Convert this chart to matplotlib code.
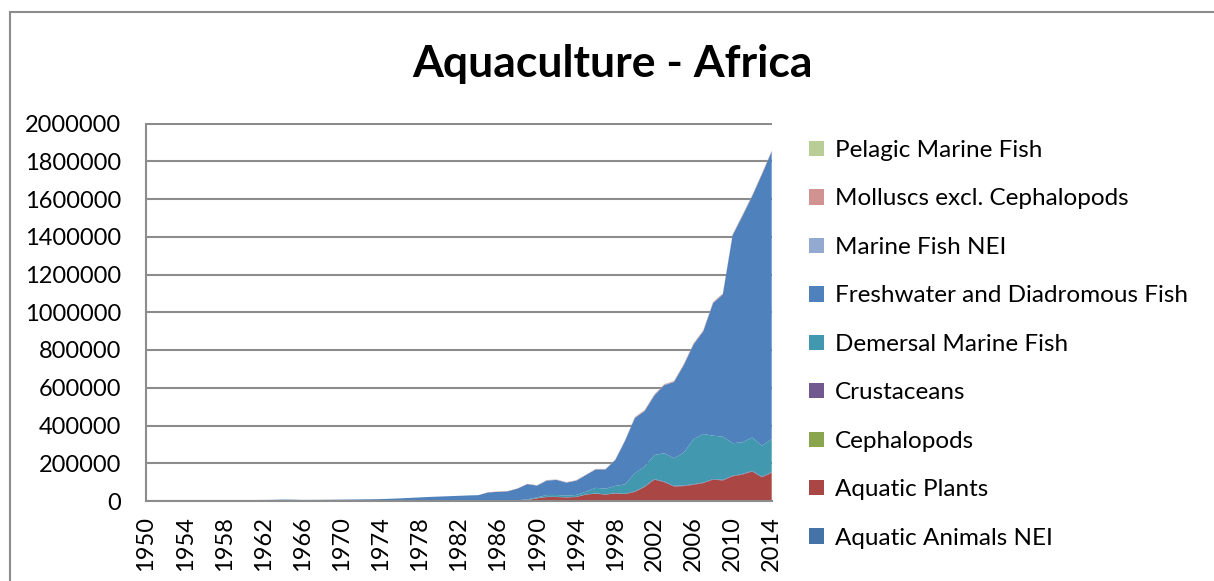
import matplotlib.pyplot as plt
from matplotlib.patches import Patch
from matplotlib.lines import Line2D

plt.rcParams['font.family'] = ['Lato', 'DejaVu Sans']

years = list(range(1950, 2015))

# per-series tonnes (stack order bottom -> top)
animals_nei = [0] * 40 + [1000] * 25
plants = [0] * 38 + [2000, 5000, 13000, 20000, 20000, 18000, 20000, 33000, 38000, 33000,
                     39000, 36000, 47000, 73000, 112000, 99000, 76000, 78000, 85000, 94000,
                     112000, 108000, 130000, 139000, 155000, 125000, 148000]
cephalopods = [0] * 65
crustaceans = [0] * 40 + [1000] * 10 + [3000] * 15
demersal = [0] * 38 + [2000, 4000, 4000, 10000, 10000, 8000, 10000, 14000, 30000, 30000,
                       39000, 50000, 96000, 105000, 128000, 150000, 146000, 174000, 238000, 257000,
                       230000, 229000, 172000, 168000, 177000, 164000, 176000]
freshwater = [1500, 1800, 2000, 2300, 2600, 3000, 3300, 3600, 4000, 4300,
              4800, 5200, 5600, 6200, 7500, 7000, 5800, 6000, 6300, 6700,
              7200, 7800, 8500, 9200, 10000, 12000, 14000, 16500, 19000, 21500,
              23500, 25500, 27500, 29500, 31000, 45500, 48500, 51500, 61500, 80500,
              62500, 76500, 79500, 69500, 75500, 88500, 97500, 102500, 137500, 231500,
              292500, 294500, 315500, 360500, 404500, 463500, 502500, 544500, 702500, 753500,
              1101500, 1198500, 1278500, 1437500, 1523500]
marine_nei = [0] * 40 + [1000] * 25
molluscs = [0] * 35 + [1500] * 15 + [4000] * 15
pelagic = [0] * 50 + [500] * 15

series_names = ['Aquatic Animals NEI', 'Aquatic Plants', 'Cephalopods', 'Crustaceans',
                'Demersal Marine Fish', 'Freshwater and Diadromous Fish', 'Marine Fish NEI',
                'Molluscs excl. Cephalopods', 'Pelagic Marine Fish']
colors = ['#4572A7', '#AA4643', '#89A54E', '#71588F', '#4198AF',
          '#4F81BD', '#93A9CF', '#D19392', '#B9CD96']

fig = plt.figure(figsize=(12.14, 5.81), dpi=100)
ax = fig.add_axes([146 / 1214, 1 - 501 / 581, (771.7 - 146) / 1214, (501 - 123.5) / 581])

ax.stackplot(years, animals_nei, plants, cephalopods, crustaceans, demersal,
             freshwater, marine_nei, molluscs, pelagic, colors=colors, linewidth=0)

ax.set_xlim(1950, 2014)
ax.set_ylim(0, 2000000)
ax.set_yticks(range(0, 2000001, 200000))
ax.set_yticklabels([str(v) for v in range(0, 2000001, 200000)])
ax.set_xticks(years[::4])
ax.set_xticklabels([str(y) for y in years[::4]], rotation=90)
ax.tick_params(axis='both', length=0, labelsize=17, colors='black')
ax.tick_params(axis='y', pad=18)
ax.tick_params(axis='x', pad=11)
ax.grid(axis='y', color='#8C8C8C', linewidth=1.5)
ax.set_axisbelow(True)
for s in ['top', 'right']:
    ax.spines[s].set_visible(False)
for s in ['left', 'bottom']:
    ax.spines[s].set_color('#8C8C8C')
    ax.spines[s].set_linewidth(1.5)

fig.text(613 / 1214, 1 - 64 / 581, 'Aquaculture - Africa', ha='center', va='center',
         fontsize=32, fontweight='bold')

handles = [Patch(facecolor=c, edgecolor='none') for c in colors][::-1]
fig.legend(handles, series_names[::-1], loc='upper left',
           bbox_to_anchor=(809 / 1214, 1 - 140 / 581), frameon=False, fontsize=17.5,
           handlelength=0.6, handleheight=0.6, handletextpad=0.45,
           labelspacing=1.13, borderpad=0, borderaxespad=0)

# outer chart border
fig.add_artist(Line2D([9.5 / 1214, 9.5 / 1214], [0, 1 - 12 / 581], color='#8C8C8C', lw=1.5))
fig.add_artist(Line2D([9.5 / 1214, 1], [1 - 12 / 581, 1 - 12 / 581], color='#8C8C8C', lw=1.5))

fig.savefig('out.png', dpi=100)
